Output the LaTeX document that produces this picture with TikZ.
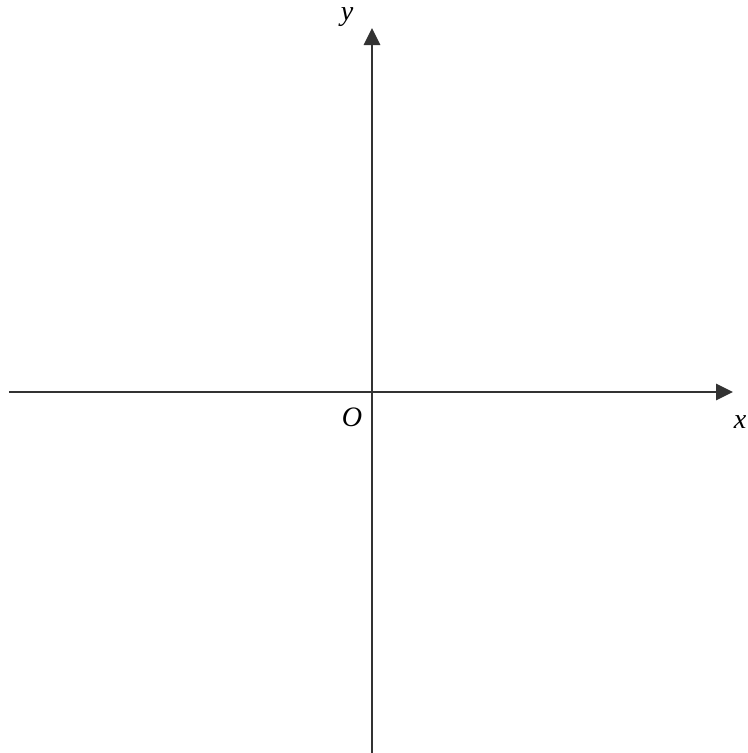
\documentclass[tikz,border=0pt]{standalone}
\usepackage{fontspec}
\setmainfont{Liberation Serif}
\usetikzlibrary{arrows.meta}

\begin{document}
\begin{tikzpicture}[every node/.style={font=\fontsize{16}{19}\selectfont\itshape}, >={Triangle[length=3.4mm,width=3.3mm]}, axis/.style={->, line width=0.9pt, black!80}]
	\useasboundingbox (-7.44,-7.22) rectangle (7.5,7.84);
	\coordinate (xstart) at (-7.26,0);
	\coordinate (xend) at (7.22,0);
	\coordinate (ystart) at (0,-7.3);
	\coordinate (yend) at (0,7.28);
	\draw[axis] (xstart) -- (xend);
	\draw[axis] (ystart) -- (yend);
	\node[inner sep=0pt] (xlab) at (7.36,-0.6) {x};
	\node (ylab) at (-0.5,7.5) {y};
	\node (orig) at (-0.4,-0.5) {O};
\end{tikzpicture}
\end{document}
